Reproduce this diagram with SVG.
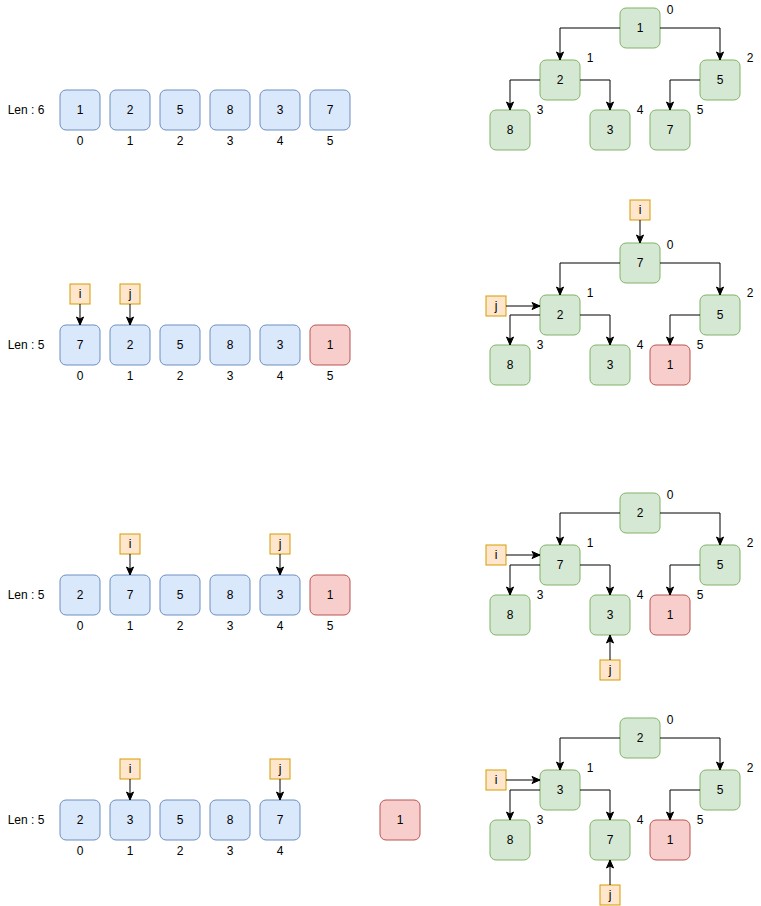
<svg xmlns="http://www.w3.org/2000/svg" width="761" height="906" viewBox="0 0 761 906">
<style>
text{font-family:"Liberation Sans",Arial,sans-serif;font-size:12px;fill:#000;text-anchor:middle;dominant-baseline:central}
.b{fill:#dae8fc;stroke:#6c8ebf;stroke-width:1}
.g{fill:#d5e8d4;stroke:#82b366;stroke-width:1}
.r{fill:#f8cecc;stroke:#b85450;stroke-width:1}
.o{fill:#ffe6cc;stroke:#d79b00;stroke-width:1}
.e{fill:none;stroke:#000;stroke-width:1;marker-end:url(#a)}
</style>
<defs>
<marker id="a" markerUnits="userSpaceOnUse" markerWidth="10" markerHeight="10" viewBox="0 0 10 10" refX="9" refY="5" orient="auto"><path d="M1,1.5 L9,5 L1,8.5 L3,5 z" fill="#000" stroke="#000" stroke-width="1"/></marker>
</defs>

<!-- Row 1 array -->
<g id="row1">
<text x="26" y="110">Len : 6</text>
<g id="r1c0"><rect class="b" x="60" y="90" width="40" height="40" rx="6"/><text x="80" y="110">1</text><text x="80" y="141">0</text></g>
<g id="r1c1"><rect class="b" x="110" y="90" width="40" height="40" rx="6"/><text x="130" y="110">2</text><text x="130" y="141">1</text></g>
<g id="r1c2"><rect class="b" x="160" y="90" width="40" height="40" rx="6"/><text x="180" y="110">5</text><text x="180" y="141">2</text></g>
<g id="r1c3"><rect class="b" x="210" y="90" width="40" height="40" rx="6"/><text x="230" y="110">8</text><text x="230" y="141">3</text></g>
<g id="r1c4"><rect class="b" x="260" y="90" width="40" height="40" rx="6"/><text x="280" y="110">3</text><text x="280" y="141">4</text></g>
<g id="r1c5"><rect class="b" x="310" y="90" width="40" height="40" rx="6"/><text x="330" y="110">7</text><text x="330" y="141">5</text></g>
</g>

<!-- Row 2 array -->
<g id="row2">
<text x="26" y="345">Len : 5</text>
<g id="r2c0"><rect class="b" x="60" y="325" width="40" height="40" rx="6"/><text x="80" y="345">7</text><text x="80" y="376">0</text></g>
<g id="r2c1"><rect class="b" x="110" y="325" width="40" height="40" rx="6"/><text x="130" y="345">2</text><text x="130" y="376">1</text></g>
<g id="r2c2"><rect class="b" x="160" y="325" width="40" height="40" rx="6"/><text x="180" y="345">5</text><text x="180" y="376">2</text></g>
<g id="r2c3"><rect class="b" x="210" y="325" width="40" height="40" rx="6"/><text x="230" y="345">8</text><text x="230" y="376">3</text></g>
<g id="r2c4"><rect class="b" x="260" y="325" width="40" height="40" rx="6"/><text x="280" y="345">3</text><text x="280" y="376">4</text></g>
<g id="r2c5"><rect class="r" x="310" y="325" width="40" height="40" rx="6"/><text x="330" y="345">1</text><text x="330" y="376">5</text></g>
<g id="r2i"><rect class="o" x="70" y="284" width="20" height="20"/><text x="80" y="294">i</text></g>
<g id="r2j"><rect class="o" x="120" y="284" width="20" height="20"/><text x="130" y="294">j</text></g>
</g>

<!-- Row 3 array -->
<g id="row3">
<text x="26" y="595">Len : 5</text>
<g id="r3c0"><rect class="b" x="60" y="575" width="40" height="40" rx="6"/><text x="80" y="595">2</text><text x="80" y="626">0</text></g>
<g id="r3c1"><rect class="b" x="110" y="575" width="40" height="40" rx="6"/><text x="130" y="595">7</text><text x="130" y="626">1</text></g>
<g id="r3c2"><rect class="b" x="160" y="575" width="40" height="40" rx="6"/><text x="180" y="595">5</text><text x="180" y="626">2</text></g>
<g id="r3c3"><rect class="b" x="210" y="575" width="40" height="40" rx="6"/><text x="230" y="595">8</text><text x="230" y="626">3</text></g>
<g id="r3c4"><rect class="b" x="260" y="575" width="40" height="40" rx="6"/><text x="280" y="595">3</text><text x="280" y="626">4</text></g>
<g id="r3c5"><rect class="r" x="310" y="575" width="40" height="40" rx="6"/><text x="330" y="595">1</text><text x="330" y="626">5</text></g>
<g id="r3i"><rect class="o" x="120" y="534" width="20" height="20"/><text x="130" y="544">i</text></g>
<g id="r3j"><rect class="o" x="270" y="534" width="20" height="20"/><text x="280" y="544">j</text></g>
</g>

<!-- Row 4 array -->
<g id="row4">
<text x="26" y="820">Len : 5</text>
<g id="r4c0"><rect class="b" x="60" y="800" width="40" height="40" rx="6"/><text x="80" y="820">2</text><text x="80" y="851">0</text></g>
<g id="r4c1"><rect class="b" x="110" y="800" width="40" height="40" rx="6"/><text x="130" y="820">3</text><text x="130" y="851">1</text></g>
<g id="r4c2"><rect class="b" x="160" y="800" width="40" height="40" rx="6"/><text x="180" y="820">5</text><text x="180" y="851">2</text></g>
<g id="r4c3"><rect class="b" x="210" y="800" width="40" height="40" rx="6"/><text x="230" y="820">8</text><text x="230" y="851">3</text></g>
<g id="r4c4"><rect class="b" x="260" y="800" width="40" height="40" rx="6"/><text x="280" y="820">7</text><text x="280" y="851">4</text></g>
<g id="r4x"><rect class="r" x="380" y="800" width="40" height="40" rx="6"/><text x="400" y="820">1</text></g>
<g id="r4i"><rect class="o" x="120" y="759" width="20" height="20"/><text x="130" y="769">i</text></g>
<g id="r4j"><rect class="o" x="270" y="759" width="20" height="20"/><text x="280" y="769">j</text></g>
</g>

<!-- Tree 1 -->
<g id="tree1">
<g id="t1n0"><rect class="g" x="620" y="8" width="40" height="40" rx="6"/><text x="640" y="28">1</text><text x="670" y="10">0</text></g>
<g id="t1n1"><rect class="g" x="540" y="60" width="40" height="40" rx="6"/><text x="560" y="80">2</text><text x="590" y="58">1</text></g>
<g id="t1n2"><rect class="g" x="700" y="60" width="40" height="40" rx="6"/><text x="720" y="80">5</text><text x="750" y="58">2</text></g>
<g id="t1n3"><rect class="g" x="490" y="110" width="40" height="40" rx="6"/><text x="510" y="130">8</text><text x="540" y="110">3</text></g>
<g id="t1n4"><rect class="g" x="590" y="110" width="40" height="40" rx="6"/><text x="610" y="130">3</text><text x="640" y="110">4</text></g>
<g id="t1n5"><rect class="g" x="650" y="110" width="40" height="40" rx="6"/><text x="670" y="130">7</text><text x="700" y="110">5</text></g>
</g>

<!-- Tree 2 -->
<g id="tree2">
<g id="t2n0"><rect class="g" x="620" y="243" width="40" height="40" rx="6"/><text x="640" y="263">7</text><text x="670" y="245">0</text></g>
<g id="t2n1"><rect class="g" x="540" y="295" width="40" height="40" rx="6"/><text x="560" y="315">2</text><text x="590" y="293">1</text></g>
<g id="t2n2"><rect class="g" x="700" y="295" width="40" height="40" rx="6"/><text x="720" y="315">5</text><text x="750" y="293">2</text></g>
<g id="t2n3"><rect class="g" x="490" y="345" width="40" height="40" rx="6"/><text x="510" y="365">8</text><text x="540" y="345">3</text></g>
<g id="t2n4"><rect class="g" x="590" y="345" width="40" height="40" rx="6"/><text x="610" y="365">3</text><text x="640" y="345">4</text></g>
<g id="t2n5"><rect class="r" x="650" y="345" width="40" height="40" rx="6"/><text x="670" y="365">1</text><text x="700" y="345">5</text></g>
<g id="t2i"><rect class="o" x="630" y="200" width="20" height="20"/><text x="640" y="210">i</text></g>
<g id="t2j"><rect class="o" x="486" y="296" width="20" height="20"/><text x="496" y="306">j</text></g>
</g>

<!-- Tree 3 -->
<g id="tree3">
<g id="t3n0"><rect class="g" x="620" y="493" width="40" height="40" rx="6"/><text x="640" y="513">2</text><text x="670" y="495">0</text></g>
<g id="t3n1"><rect class="g" x="540" y="545" width="40" height="40" rx="6"/><text x="560" y="565">7</text><text x="590" y="543">1</text></g>
<g id="t3n2"><rect class="g" x="700" y="545" width="40" height="40" rx="6"/><text x="720" y="565">5</text><text x="750" y="543">2</text></g>
<g id="t3n3"><rect class="g" x="490" y="595" width="40" height="40" rx="6"/><text x="510" y="615">8</text><text x="540" y="595">3</text></g>
<g id="t3n4"><rect class="g" x="590" y="595" width="40" height="40" rx="6"/><text x="610" y="615">3</text><text x="640" y="595">4</text></g>
<g id="t3n5"><rect class="r" x="650" y="595" width="40" height="40" rx="6"/><text x="670" y="615">1</text><text x="700" y="595">5</text></g>
<g id="t3i"><rect class="o" x="486" y="545" width="20" height="20"/><text x="496" y="555">i</text></g>
<g id="t3j"><rect class="o" x="600" y="660" width="20" height="20"/><text x="610" y="670">j</text></g>
</g>

<!-- Tree 4 -->
<g id="tree4">
<g id="t4n0"><rect class="g" x="620" y="718" width="40" height="40" rx="6"/><text x="640" y="738">2</text><text x="670" y="720">0</text></g>
<g id="t4n1"><rect class="g" x="540" y="770" width="40" height="40" rx="6"/><text x="560" y="790">3</text><text x="590" y="768">1</text></g>
<g id="t4n2"><rect class="g" x="700" y="770" width="40" height="40" rx="6"/><text x="720" y="790">5</text><text x="750" y="768">2</text></g>
<g id="t4n3"><rect class="g" x="490" y="820" width="40" height="40" rx="6"/><text x="510" y="840">8</text><text x="540" y="820">3</text></g>
<g id="t4n4"><rect class="g" x="590" y="820" width="40" height="40" rx="6"/><text x="610" y="840">7</text><text x="640" y="820">4</text></g>
<g id="t4n5"><rect class="r" x="650" y="820" width="40" height="40" rx="6"/><text x="670" y="840">1</text><text x="700" y="820">5</text></g>
<g id="t4i"><rect class="o" x="486" y="770" width="20" height="20"/><text x="496" y="780">i</text></g>
<g id="t4j"><rect class="o" x="600" y="885" width="20" height="20"/><text x="610" y="895">j</text></g>
</g>

<!-- Connectors -->
<g id="connectors">
<path class="e" d="M80,304 V325"/>
<path class="e" d="M130,304 V325"/>
<path class="e" d="M130,554 V575"/>
<path class="e" d="M280,554 V575"/>
<path class="e" d="M130,779 V800"/>
<path class="e" d="M280,779 V800"/>

<path class="e" d="M620,28 H560 V60"/>
<path class="e" d="M660,28 H720 V60"/>
<path class="e" d="M540,80 H510 V110"/>
<path class="e" d="M580,80 H610 V110"/>
<path class="e" d="M700,80 H670 V110"/>

<path class="e" d="M620,263 H560 V295"/>
<path class="e" d="M660,263 H720 V295"/>
<path class="e" d="M540,315 H510 V345"/>
<path class="e" d="M580,315 H610 V345"/>
<path class="e" d="M700,315 H670 V345"/>
<path class="e" d="M640,220 V243"/>
<path class="e" d="M506,306 H540"/>

<path class="e" d="M620,513 H560 V545"/>
<path class="e" d="M660,513 H720 V545"/>
<path class="e" d="M540,565 H510 V595"/>
<path class="e" d="M580,565 H610 V595"/>
<path class="e" d="M700,565 H670 V595"/>
<path class="e" d="M506,555 H540"/>
<path class="e" d="M610,660 V635"/>

<path class="e" d="M620,738 H560 V770"/>
<path class="e" d="M660,738 H720 V770"/>
<path class="e" d="M540,790 H510 V820"/>
<path class="e" d="M580,790 H610 V820"/>
<path class="e" d="M700,790 H670 V820"/>
<path class="e" d="M506,780 H540"/>
<path class="e" d="M610,885 V860"/>
</g>
</svg>
